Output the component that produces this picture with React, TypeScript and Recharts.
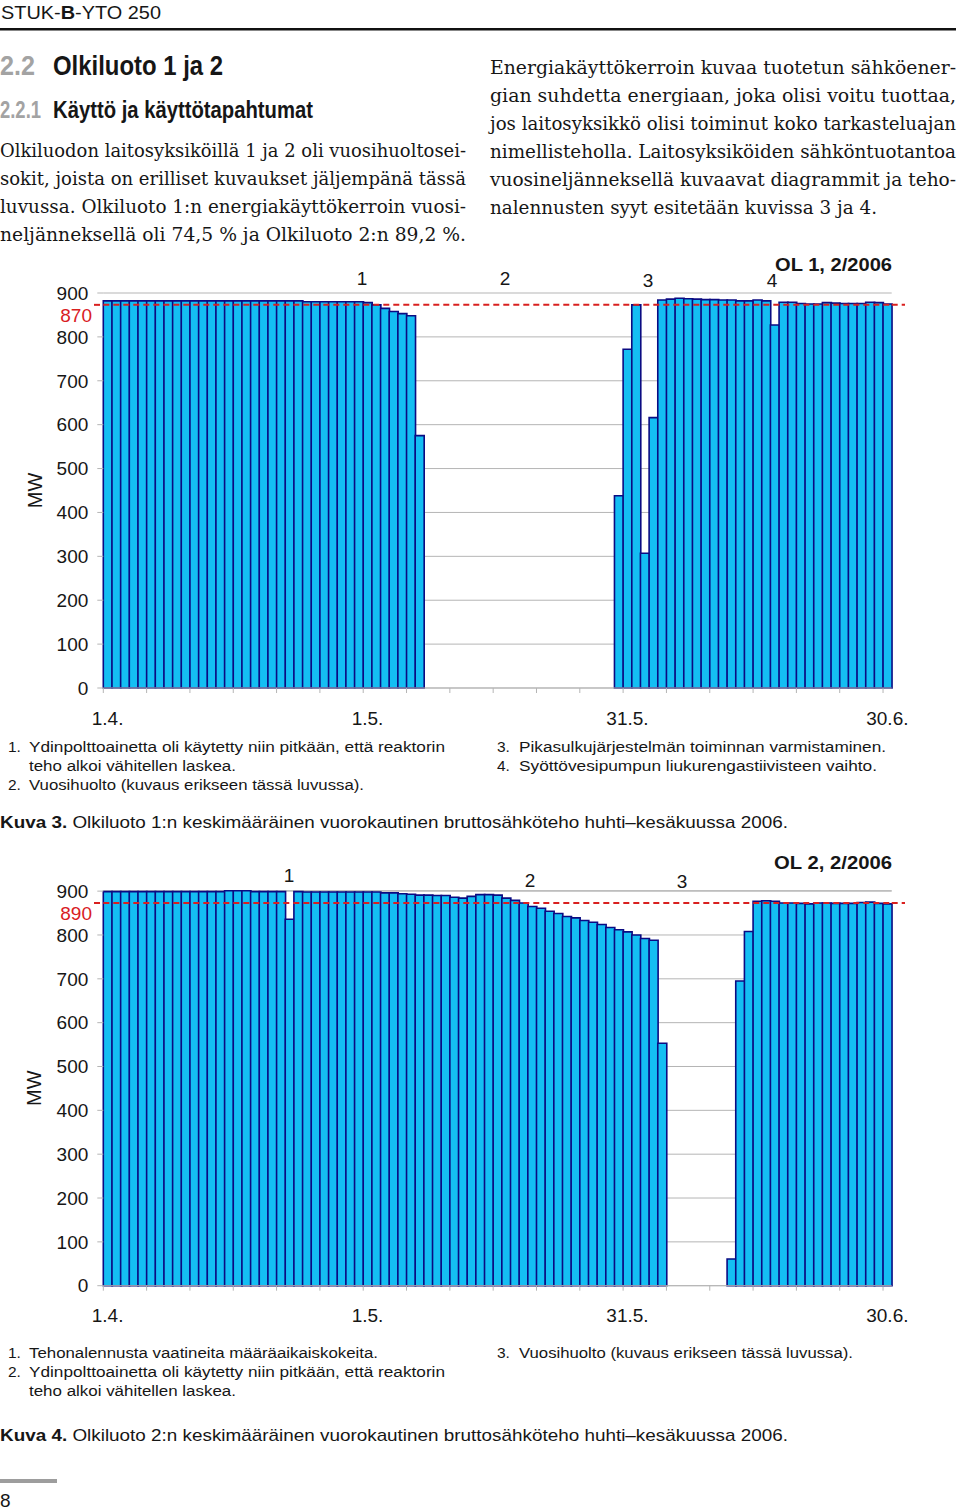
import React from 'react';
import { BarChart, Bar, XAxis, YAxis, CartesianGrid, ReferenceLine } from 'recharts';

// days 1.4. - 30.6.2006
const MONTHS = [
  { m: 4, days: 30 },
  { m: 5, days: 31 },
  { m: 6, days: 30 },
];
const DAY_LABELS: string[] = MONTHS.flatMap(({ m, days }) =>
  Array.from({ length: days }, (_, i) => `${i + 1}.${m}.`)
);
const SHOWN_DAYS = ['1.4.', '1.5.', '31.5.', '30.6.'];
const MW_TICKS = [0, 100, 200, 300, 400, 500, 600, 700, 800, 900];

// OL 1 daily mean gross power, MW (null = unit off line)
const OL1_MW = [
  882, 882, 882, 882, 882, 882, 882, 882, 882, 882,
  882, 882, 882, 882, 882, 882, 882, 882, 882, 882,
  882, 882, 882, 880, 880, 880, 880, 880, 880, 880,
  878, 873, 865, 858, 853, 848, 575, null, null, null,
  null, null, null, null, null, null, null, null, null, null,
  null, null, null, null, null, null, null, null, null, 438,
  772, 873, 307, 616, 884, 886, 888, 887, 886, 885,
  885, 884, 884, 882, 882, 884, 882, 827, 879, 879,
  876, 875, 875, 878, 877, 876, 876, 876, 879, 878,
  875,
];

// OL 2 daily mean gross power, MW
const OL2_MW = [
  899, 899, 899, 899, 899, 899, 899, 899, 899, 899,
  899, 899, 899, 899, 901, 901, 901, 899, 899, 899,
  899, 836, 899, 898, 898, 898, 898, 898, 898, 898,
  898, 898, 896, 896, 894, 893, 891, 891, 890, 890,
  886, 884, 888, 892, 892, 891, 884, 879, 873, 865,
  861, 854, 849, 842, 839, 833, 829, 824, 817, 812,
  807, 800, 792, 788, 553, null, null, null, null, null,
  null, null, 61, 695, 808, 877, 878, 877, 873, 873,
  872, 871, 873, 873, 872, 872, 872, 874, 875, 872,
  871,
];

const OL1_LINE = 873;
const OL1_LINE_LABEL = '870';
const OL2_LINE = 873;
const OL2_LINE_LABEL = '890';

const SANS = "'Liberation Sans', Arial, sans-serif";
const NARROW = "'Liberation Sans Narrow', 'Liberation Sans', Arial, sans-serif";
const SERIF = "'DejaVu Serif', serif";
const GRID = '#b5b5b5';
const RED = '#d9201f';
const INK = '#161616';

const PLOT_LEFT = 103.3;
const PLOT_RIGHT = 891.7;
const BAND = (PLOT_RIGHT - PLOT_LEFT) / DAY_LABELS.length;

const DayTick = (props: any) => {
  const { x, y, payload } = props;
  const index = props.index ?? payload.index;
  return (
    <g>
      {index % 5 === 0 && (
        <line x1={x - BAND / 2} x2={x - BAND / 2} y1={y} y2={y + 5} stroke={GRID} />
      )}
      {SHOWN_DAYS.includes(payload.value) && (
        <text x={x} y={y + 30} textAnchor="middle" dominantBaseline="central" fontSize={19} fontFamily={SANS} fill={INK}>
          {payload.value}
        </text>
      )}
    </g>
  );
};

const MwLabel = (props: any) => {
  const vb = props.viewBox || {};
  const cy = vb.y + vb.height / 2;
  return (
    <text x={34.5} y={cy} transform={`rotate(-90 34.5 ${cy})`} textAnchor="middle" dominantBaseline="central" fontSize={20} fontFamily={SANS} fill={INK}>
      MW
    </text>
  );
};

const LimitLabel = (props: any) => {
  const y = props.viewBox?.y ?? 0;
  return (
    <g>
      <line x1={94} x2={PLOT_LEFT} y1={y} y2={y} stroke={RED} strokeWidth={2} strokeDasharray="6 4" />
      <line x1={PLOT_RIGHT} x2={905} y1={y} y2={y} stroke={RED} strokeWidth={2} strokeDasharray="6 4" />
      <text x={92} y={y + 11} textAnchor="end" dominantBaseline="central" fontSize={19} fontFamily={SANS} fill={RED}>
        {props.text}
      </text>
    </g>
  );
};

const PowerChart = ({ values, line, lineLabel, top, marginTop }: any) => {
  const data = DAY_LABELS.map((day, i) => ({ day, mw: values[i] }));
  return (
    <div style={{ position: 'absolute', left: 0, top }}>
      <BarChart
        width={960}
        height={480}
        data={data}
        margin={{ top: marginTop, right: 960 - PLOT_RIGHT, bottom: 480 - marginTop - 395 - 36, left: PLOT_LEFT - 60 }}
        barCategoryGap={0}
        barGap={0}
      >
        <CartesianGrid vertical={false} stroke={GRID} />
        <XAxis dataKey="day" interval={0} height={36} tickSize={0} tickMargin={0} tickLine={false} axisLine={{ stroke: GRID }} tick={<DayTick />} />
        <YAxis
          domain={[0, 900]}
          ticks={MW_TICKS}
          interval={0}
          width={60}
          axisLine={false}
          tickLine={{ stroke: GRID }}
          tickSize={6}
          tickMargin={9}
          tick={{ fontSize: 19, fill: INK, fontFamily: SANS }}
          label={<MwLabel />}
        />
        <Bar dataKey="mw" fill="#14bef3" stroke="#0b0b82" strokeWidth={1.6} isAnimationActive={false} />
        <ReferenceLine y={line} stroke={RED} strokeWidth={2} strokeDasharray="6 4" label={<LimitLabel text={lineLabel} />} />
      </BarChart>
    </div>
  );
};

const Txt = ({ x, y, w, size, weight, family, fill, anchor, children }: any) => (
  <text
    x={x}
    y={y}
    fontSize={size}
    fontWeight={weight || 'normal'}
    fontFamily={family || SANS}
    fill={fill || INK}
    textAnchor={anchor || 'start'}
    textLength={w}
    lengthAdjust={w ? 'spacingAndGlyphs' : undefined}
  >
    {children}
  </text>
);

const LEFT_BODY = [
  'Olkiluodon laitosyksiköillä 1 ja 2 oli vuosihuoltosei-',
  'sokit, joista on erilliset kuvaukset jäljempänä tässä',
  'luvussa. Olkiluoto 1:n energiakäyttökerroin vuosi-',
  'neljänneksellä oli 74,5 % ja Olkiluoto 2:n 89,2 %.',
];
const RIGHT_BODY = [
  'Energiakäyttökerroin kuvaa tuotetun sähköener-',
  'gian suhdetta energiaan, joka olisi voitu tuottaa,',
  'jos laitosyksikkö olisi toiminut koko tarkasteluajan',
  'nimellisteholla. Laitosyksiköiden sähköntuotantoa',
  'vuosineljänneksellä kuvaavat diagrammit ja teho-',
  'nalennusten syyt esitetään kuvissa 3 ja 4.',
];

const PageText = () => (
  <svg width={960} height={1511} style={{ position: 'absolute', left: 0, top: 0, pointerEvents: 'none' }}>
    {/* running header */}
    <Txt x={1} y={19} w={160} size={18.5}>
      STUK-<tspan fontWeight="bold">B</tspan>-YTO 250
    </Txt>
    <rect x={0} y={28} width={956} height={2.5} fill="#111" />

    <Txt x={0} y={75} w={35} size={28} weight="bold" family={NARROW} fill="#a3a3a3">2.2</Txt>
    <Txt x={53} y={75} w={170} size={28} weight="bold" family={NARROW}>Olkiluoto 1 ja 2</Txt>
    <Txt x={0} y={118} w={41} size={23} weight="bold" family={NARROW} fill="#a3a3a3">2.2.1</Txt>
    <Txt x={53} y={118} w={260} size={23} weight="bold" family={NARROW}>Käyttö ja käyttötapahtumat</Txt>

    {LEFT_BODY.map((t, i) => (
      <Txt key={t} x={0} y={157 + i * 28} w={466} size={18} family={SERIF}>{t}</Txt>
    ))}
    {RIGHT_BODY.map((t, i) => (
      <Txt key={t} x={490} y={73.5 + i * 28} w={i === RIGHT_BODY.length - 1 ? 387 : 466} size={18} family={SERIF}>{t}</Txt>
    ))}

    {/* chart 1 notes */}
    <Txt x={362} y={285} size={19} anchor="middle">1</Txt>
    <Txt x={505} y={285} size={19} anchor="middle">2</Txt>
    <Txt x={648} y={287} size={19} anchor="middle">3</Txt>
    <Txt x={772} y={287} size={19} anchor="middle">4</Txt>
    <Txt x={775} y={270.5} w={117} size={18.5} weight="bold">OL 1, 2/2006</Txt>

    <Txt x={8} y={751.5} size={15.5} family={NARROW}>1.</Txt>
    <Txt x={29} y={751.5} w={416} size={15.5} family={NARROW}>Ydinpolttoainetta oli käytetty niin pitkään, että reaktorin</Txt>
    <Txt x={29} y={770.5} w={207} size={15.5} family={NARROW}>teho alkoi vähitellen laskea.</Txt>
    <Txt x={8} y={789.5} size={15.5} family={NARROW}>2.</Txt>
    <Txt x={29} y={789.5} w={335} size={15.5} family={NARROW}>Vuosihuolto (kuvaus erikseen tässä luvussa).</Txt>
    <Txt x={497} y={751.5} size={15.5} family={NARROW}>3.</Txt>
    <Txt x={519} y={751.5} w={367} size={15.5} family={NARROW}>Pikasulkujärjestelmän toiminnan varmistaminen.</Txt>
    <Txt x={497} y={770.5} size={15.5} family={NARROW}>4.</Txt>
    <Txt x={519} y={770.5} w={358} size={15.5} family={NARROW}>Syöttövesipumpun liukurengastiivisteen vaihto.</Txt>
    <Txt x={0} y={828} w={788} size={17} family={NARROW}>
      <tspan fontWeight="bold">Kuva 3.</tspan> Olkiluoto 1:n keskimääräinen vuorokautinen bruttosähköteho huhti–kesäkuussa 2006.
    </Txt>

    {/* chart 2 notes */}
    <Txt x={289} y={881.5} size={19} anchor="middle">1</Txt>
    <Txt x={530} y={886.5} size={19} anchor="middle">2</Txt>
    <Txt x={682} y={887.5} size={19} anchor="middle">3</Txt>
    <Txt x={774} y={868.5} w={118} size={18.5} weight="bold">OL 2, 2/2006</Txt>

    <Txt x={8} y={1357.5} size={15.5} family={NARROW}>1.</Txt>
    <Txt x={29} y={1357.5} w={349} size={15.5} family={NARROW}>Tehonalennusta vaatineita määräaikaiskokeita.</Txt>
    <Txt x={8} y={1376.5} size={15.5} family={NARROW}>2.</Txt>
    <Txt x={29} y={1376.5} w={416} size={15.5} family={NARROW}>Ydinpolttoainetta oli käytetty niin pitkään, että reaktorin</Txt>
    <Txt x={29} y={1395.5} w={207} size={15.5} family={NARROW}>teho alkoi vähitellen laskea.</Txt>
    <Txt x={497} y={1357.5} size={15.5} family={NARROW}>3.</Txt>
    <Txt x={519} y={1357.5} w={334} size={15.5} family={NARROW}>Vuosihuolto (kuvaus erikseen tässä luvussa).</Txt>
    <Txt x={0} y={1441} w={788} size={17} family={NARROW}>
      <tspan fontWeight="bold">Kuva 4.</tspan> Olkiluoto 2:n keskimääräinen vuorokautinen bruttosähköteho huhti–kesäkuussa 2006.
    </Txt>

    {/* page number */}
    <rect x={0} y={1479} width={57} height={4} fill="#9d9d9d" />
    <Txt x={0} y={1507} size={19}>8</Txt>
  </svg>
);

export default function App() {
  return (
    <div style={{ position: 'absolute', left: 0, top: 0, width: 960, height: 1511, background: '#fff' }}>
      <PowerChart values={OL1_MW} line={OL1_LINE} lineLabel={OL1_LINE_LABEL} top={250} marginTop={43} />
      <PowerChart values={OL2_MW} line={OL2_LINE} lineLabel={OL2_LINE_LABEL} top={850} marginTop={40.7} />
      <PageText />
    </div>
  );
}
